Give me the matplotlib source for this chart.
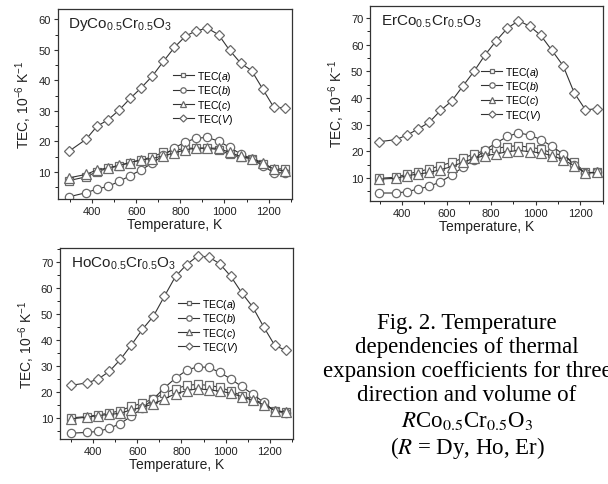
import matplotlib
matplotlib.use('Agg')
import matplotlib.pyplot as plt
from matplotlib.ticker import MultipleLocator

plt.rcParams['font.family'] = ['Liberation Sans', 'DejaVu Sans']
plt.rcParams['mathtext.fontset'] = 'custom'
plt.rcParams['mathtext.rm'] = 'Liberation Sans'
plt.rcParams['mathtext.it'] = 'Liberation Sans:italic'

# temperatures (K)
temps = [298, 373, 423, 473, 523, 573, 623, 673, 723, 773,
         823, 873, 923, 973, 1023, 1073, 1123, 1173, 1223, 1273]

# DyCo0.5Cr0.5O3
dy_a = [7.2, 8.4, 10.1, 11.2, 12.0, 13.1, 13.9, 15.0, 16.4, 17.0,
        17.8, 17.8, 17.8, 17.3, 15.8, 14.8, 14.4, 12.6, 10.9, 11.1]
dy_b = [1.9, 3.2, 4.4, 5.3, 6.9, 8.8, 10.7, 12.9, 15.4, 17.9,
        19.8, 21.1, 21.3, 20.1, 18.1, 15.9, 14.4, 12.0, 9.8, 9.7]
dy_c = [8.1, 9.2, 10.7, 11.3, 12.2, 13.1, 14.0, 14.4, 15.3, 16.2,
        17.3, 17.8, 17.8, 17.8, 16.4, 15.1, 14.4, 13.1, 10.9, 10.3]
dy_v = [16.9, 20.7, 25.0, 27.1, 30.3, 34.1, 37.6, 41.4, 46.2, 50.8,
        54.5, 56.3, 57.1, 55.0, 49.9, 45.7, 43.2, 37.2, 31.2, 31.0]

# ErCo0.5Cr0.5O3
er_a = [9.9, 10.3, 11.5, 12.4, 13.4, 14.6, 15.9, 17.4, 19.0, 20.3,
        21.1, 21.8, 22.1, 21.5, 20.9, 19.4, 18.4, 15.9, 12.1, 12.1]
er_b = [4.4, 4.4, 4.9, 5.9, 6.9, 8.6, 11.1, 14.0, 16.9, 20.6,
        23.1, 25.6, 26.9, 26.1, 24.4, 21.9, 19.0, 14.9, 11.9, 12.1]
er_c = [9.6, 9.9, 10.9, 11.5, 12.1, 13.1, 14.3, 15.9, 17.4, 18.4,
        19.0, 19.9, 20.3, 19.9, 19.4, 18.4, 16.9, 14.6, 11.9, 12.1]
er_v = [23.6, 24.4, 26.1, 28.4, 30.9, 35.3, 38.8, 44.4, 49.9, 56.1,
        61.4, 66.1, 68.9, 66.9, 63.4, 57.8, 52.1, 41.9, 35.6, 35.9]

# HoCo0.5Cr0.5O3
ho_a = [10.0, 10.5, 11.2, 11.8, 12.8, 14.4, 15.7, 17.3, 19.5, 21.2,
        22.5, 22.9, 22.5, 21.8, 20.3, 18.6, 17.3, 15.4, 12.8, 12.2]
ho_b = [4.1, 4.4, 4.8, 6.0, 7.8, 10.7, 13.8, 17.3, 21.6, 25.3,
        28.3, 29.7, 29.4, 27.6, 25.0, 22.1, 19.1, 16.0, 12.5, 12.0]
ho_c = [9.6, 10.3, 10.9, 11.3, 11.8, 13.1, 14.1, 15.4, 17.3, 19.3,
        20.5, 21.2, 20.8, 20.3, 19.5, 18.2, 16.7, 15.1, 12.8, 12.2]
ho_v = [22.5, 23.5, 25.0, 27.9, 32.5, 38.1, 44.1, 49.2, 56.9, 64.5,
        69.0, 72.3, 72.0, 69.4, 64.6, 58.2, 52.7, 45.0, 37.9, 36.0]

labels = [r'TEC($\mathit{a}$)', r'TEC($\mathit{b}$)',
          r'TEC($\mathit{c}$)', r'TEC($\mathit{V}$)']
markers = ['s', 'o', '^', 'D']
sizes = [5.5, 6, 6.5, 5.5]

panels = [
    ('Dy', [dy_a, dy_b, dy_c, dy_v], [0.095, 0.588, 0.385, 0.392],
     (245, 1305), (1.2, 63.5), 10, (0.47, 0.71)),
    ('Er', [er_a, er_b, er_c, er_v], [0.609, 0.584, 0.382, 0.402],
     (258, 1300), (1.5, 74.5), 10, (0.455, 0.725)),
    ('Ho', [ho_a, ho_b, ho_c, ho_v], [0.099, 0.093, 0.383, 0.394],
     (250, 1306), (1.9, 75.5), 10, (0.485, 0.77)),
]

fig = plt.figure(figsize=(6.08, 4.85), dpi=100)

for el, series, pos, xl, yl, ystep, legpos in panels:
    ax = fig.add_axes(pos)
    for vals, lab, m, ms in zip(series, labels, markers, sizes):
        ax.plot(temps, vals, color='#333333', lw=0.8, marker=m, ms=ms,
                mfc='white', mec='#6a6a6a', mew=0.9, label=lab)
    ax.set_xlim(*xl)
    ax.set_ylim(*yl)
    ax.xaxis.set_major_locator(MultipleLocator(200))
    ax.xaxis.set_minor_locator(MultipleLocator(100))
    ax.yaxis.set_major_locator(MultipleLocator(ystep))
    ax.yaxis.set_minor_locator(MultipleLocator(ystep / 2))
    ax.tick_params(labelsize=8, length=3, width=0.8, color='#333333',
                   labelcolor='#222222', pad=2)
    ax.tick_params(which='minor', length=2, width=0.6)
    for sp in ax.spines.values():
        sp.set_color('#333333')
        sp.set_linewidth(0.9)
    ax.set_xlabel('Temperature, K', fontsize=10, labelpad=1, color='#222222')
    ax.set_ylabel(r'TEC, 10$^{-6}$ K$^{-1}$', fontsize=10, labelpad=3,
                  color='#222222')
    ax.text(0.045, 0.965, el + r'Co$_{0.5}$Cr$_{0.5}$O$_3$', transform=ax.transAxes,
            fontsize=11, va='top', ha='left', color='#222222')
    ax.legend(loc='upper left', bbox_to_anchor=legpos, frameon=False,
              fontsize=7.5, markerscale=0.65, handlelength=2.0,
              handletextpad=0.3, labelspacing=0.03, borderpad=0)

caption = ('Fig. 2. Temperature\n'
           'dependencies of thermal\n'
           'expansion coefficients for three\n'
           'direction and volume of\n'
           r'$\mathit{R}$Co$_{0.5}$Cr$_{0.5}$O$_3$' '\n'
           r'($\mathit{R}$ = Dy, Ho, Er)')
fig.text(467 / 608, 1 - 387 / 485, caption, ha='center', va='center',
         multialignment='center', fontsize=16.5, linespacing=1.2,
         family='Liberation Serif', math_fontfamily='stix', color='black')

fig.savefig('out.png', dpi=100)
